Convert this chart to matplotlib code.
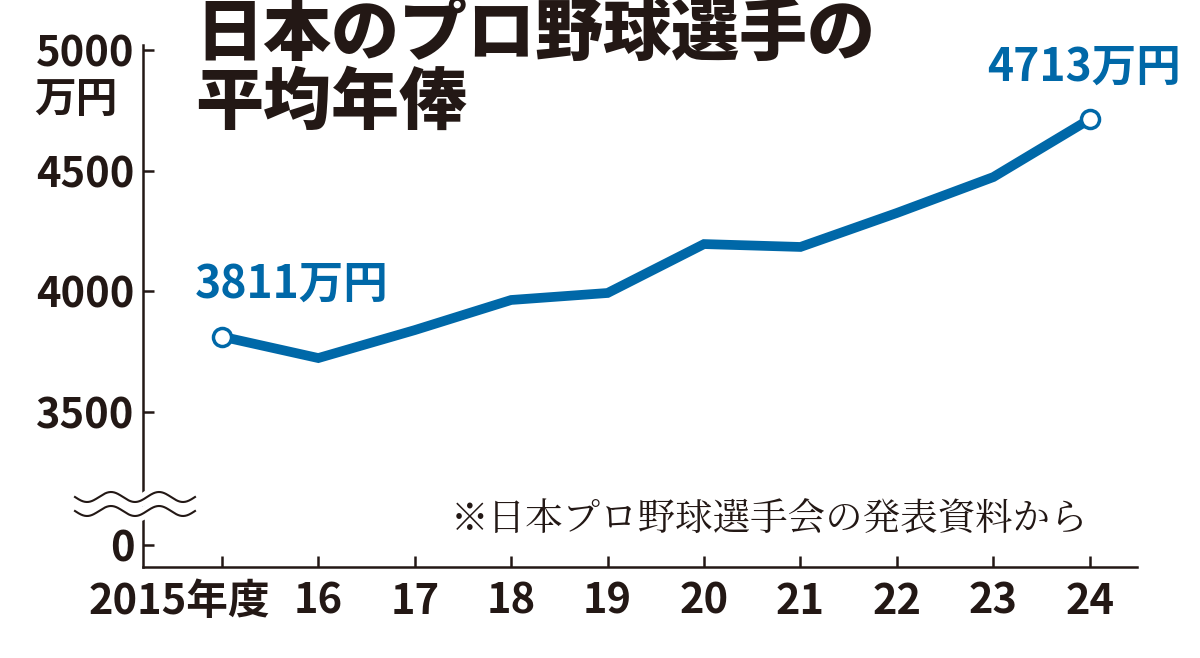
import numpy as np
import matplotlib.pyplot as plt
import matplotlib.transforms as mtransforms
from matplotlib.lines import Line2D

plt.rcParams['font.family'] = ['Noto Sans CJK JP', 'DejaVu Sans']

YEARS = [2015, 2016, 2017, 2018, 2019, 2020, 2021, 2022, 2023, 2024]
SALARY = [3811, 3722, 3838, 3963, 3992, 4195, 4183, 4324, 4473, 4713]
XLABELS = ["2015年度", "16", "17", "18", "19", "20", "21", "22", "23", "24"]
YTICKS = [3500, 4000, 4500, 5000]
BLUE = "#0068a8"
INK = "#231815"
ZERO_POS = 2946  # fake position of the "0" label below the axis break

fig = plt.figure(figsize=(12, 6.58), dpi=100)
ax = fig.add_axes([0.119, 0.1383, 0.8285, 0.7933])
ax.set_xlim(2014.18, 2024.49)
ax.set_ylim(2855, 5021)

ax.plot(YEARS, SALARY, color=BLUE, lw=7, solid_capstyle="butt", solid_joinstyle="miter", zorder=3)
ax.plot([YEARS[0], YEARS[-1]], [SALARY[0], SALARY[-1]], "o", ms=13, mfc="white",
        mec=BLUE, mew=2.5, zorder=4)

for s in ["top", "right"]:
    ax.spines[s].set_visible(False)
for s in ["left", "bottom"]:
    ax.spines[s].set_linewidth(1.8)
    ax.spines[s].set_color(INK)

ax.set_yticks([ZERO_POS] + YTICKS)
ax.set_yticklabels(["0"] + [str(v) for v in YTICKS], fontsize=30, color=INK, fontweight="bold")
ax.set_xticks(YEARS)
ax.set_xticklabels(XLABELS, fontsize=30, color=INK, fontweight="bold")
ax.tick_params(direction="in", length=8, width=1.8, colors=INK, pad=6)
ax.tick_params(axis="x", pad=10)
first = ax.get_xticklabels()[0]
first.set_horizontalalignment("right")
first.set_transform(first.get_transform() + mtransforms.ScaledTranslation(0.48, 0, fig.dpi_scale_trans))

# unit under the top tick
ax.text(-0.025, 0.895, "万円", transform=ax.transAxes, fontsize=30, ha="right",
        va="center", color=INK, fontweight="bold")

# axis break
xs = np.linspace(75, 195, 200) / 1200
for color, lw in (("white", 9), (INK, 1.5)):
    for ypx in (497, 511):
        ys = (658 - ypx - 5 * np.sin((xs * 1200 - 75) / 120 * 2 * np.pi * 2.5)) / 658
        fig.add_artist(Line2D(xs, ys, color=color, lw=lw))

ax.text(YEARS[0] - 0.28, SALARY[0] + 120, f"{SALARY[0]}万円", fontsize=32,
        color=BLUE, fontweight="bold", ha="left", va="bottom")
ax.text(YEARS[-1] + 0.95, SALARY[-1] + 120, f"{SALARY[-1]}万円", fontsize=32,
        color=BLUE, fontweight="bold", ha="right", va="bottom")

fig.text(0.163, 0.79, "日本のプロ野球選手の\n平均年俸", fontsize=49, fontweight="heavy",
         color=INK, ha="left", va="bottom", linespacing=1.0)
ax.text(0.63, 0.09, "※日本プロ野球選手会の発表資料から", transform=ax.transAxes,
        fontsize=27, color=INK, ha="center", va="center", family=["Noto Serif CJK JP", "Noto Sans CJK JP"])

fig.savefig("out.png", dpi=100, facecolor="white")
